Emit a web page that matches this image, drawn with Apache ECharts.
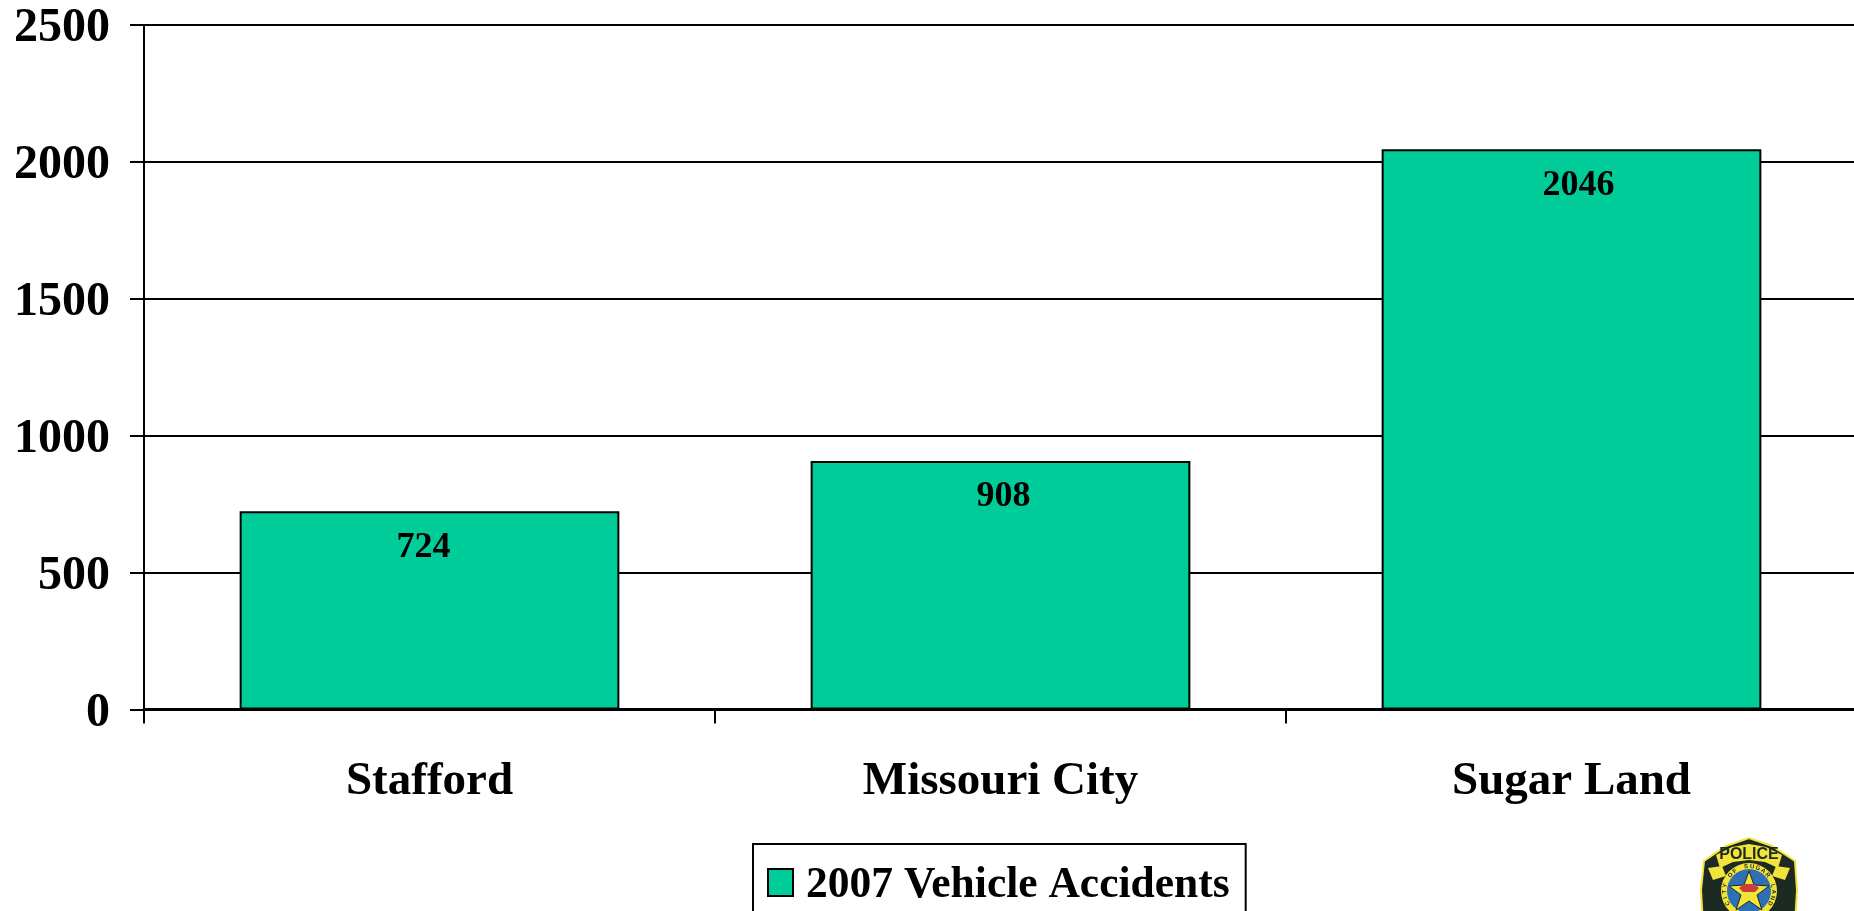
<!DOCTYPE html>
<html><head><meta charset="utf-8">
<style>html,body{margin:0;padding:0;background:#fff;overflow:hidden}#c{width:1854px;height:911px}</style>
<script src="https://cdn.jsdelivr.net/npm/echarts@6/dist/echarts.min.js"></script>
</head><body><div id="c"></div>
<script>
const categories = ['Stafford', 'Missouri City', 'Sugar Land'];
const accidents = [724, 908, 2046];
const seriesName = '2007 Vehicle Accidents';
const serif = '"Liberation Serif","Times New Roman",serif';
const chart = echarts.init(document.getElementById('c'), null, {renderer:'canvas'});
function badge(){
  const yellow='#f2e43a', dark='#1d2a22', blue='#2f6fb5';
  const cx=1749, cy=891;
  const ring='CITY OF SUGAR LAND'.split('').map((ch,i,a)=>{
    const ang=(-120+240*i/(a.length-1))*Math.PI/180;
    return {type:'text',silent:true,x:cx+24.5*Math.sin(ang),y:cy-24.5*Math.cos(ang),rotation:-ang,
      style:{text:ch,align:'center',verticalAlign:'middle',fill:dark,font:'bold 6px "Liberation Sans",sans-serif'}};
  });
  return [
    {type:'polygon',silent:true,shape:{points:[[1704,861],[1726,846],[1749,838],[1772,846],[1795,861],[1797,890],[1795,925],[1703,925],[1701,890]]},style:{fill:dark,stroke:yellow,lineWidth:2}},
    {type:'polygon',silent:true,shape:{points:[[1716,855],[1732,847],[1749,844],[1766,847],[1782,855],[1778,868],[1765,862],[1749,860],[1733,862],[1720,868]]},style:{fill:yellow}},
    {type:'polygon',silent:true,shape:{points:[[1708,868],[1722,866],[1726,876],[1713,880]]},style:{fill:yellow}},
    {type:'polygon',silent:true,shape:{points:[[1790,868],[1776,866],[1772,876],[1785,880]]},style:{fill:yellow}},
    {type:'circle',silent:true,shape:{cx:cx,cy:cy,r:28},style:{fill:yellow}},
    {type:'circle',silent:true,shape:{cx:cx,cy:cy,r:22},style:{fill:blue}},
    {type:'polygon',silent:true,shape:{points:[[1749,871],[1754,885],[1769,886],[1757,895],[1762,910],[1749,901],[1736,910],[1741,895],[1729,886],[1744,885]]},style:{fill:yellow,stroke:dark,lineWidth:1}},
    {type:'polygon',silent:true,shape:{points:[[1739,888],[1744,884],[1754,884],[1759,888],[1755,892],[1743,892]]},style:{fill:'#c9403a'}},
    {type:'text',silent:true,style:{x:1749,y:855,text:'POLICE',align:'center',verticalAlign:'middle',fill:dark,font:'bold 16px "Liberation Sans",sans-serif'}}
  ].concat(ring);
}
chart.setOption({
  animation:false,
  backgroundColor:'#fff',
  grid:{left:144,right:-3,top:25,bottom:201.5,containLabel:false,outerBoundsMode:'none'},
  legend:{
    show:true,left:753,top:844,padding:[20,16,40,14],
    borderColor:'#000',borderWidth:2,backgroundColor:'#fff',
    itemWidth:25,itemHeight:27,itemGap:0,
    formatter:(n)=>'{t|'+n+'}',
    textStyle:{fontFamily:serif,fontWeight:'bold',fontSize:43.5,color:'#000',
      rich:{t:{fontFamily:serif,fontWeight:'bold',fontSize:43.5,color:'#000',padding:[7,0,0,8]}}},
    data:[{name:seriesName,icon:'rect',itemStyle:{borderColor:'#000',borderWidth:2,color:'#00cc99'}}]
  },
  xAxis:{type:'category',data:categories,
    axisLine:{onZero:false,lineStyle:{color:'#000',width:3}},
    axisTick:{show:true,alignWithLabel:false,length:14,lineStyle:{color:'#000',width:2}},
    axisLabel:{interval:0,margin:49,color:'#000',fontFamily:serif,fontWeight:'bold',fontSize:47},
    splitLine:{show:false}},
  yAxis:{type:'value',min:0,max:2500,interval:500,
    axisLine:{show:true,lineStyle:{color:'#000',width:2}},
    axisTick:{show:true,length:14,lineStyle:{color:'#000',width:2}},
    axisLabel:{margin:34,color:'#000',fontFamily:serif,fontWeight:'bold',fontSize:48,verticalAlign:'top',lineHeight:8,
      formatter:(v)=>String(v)},
    splitLine:{show:true,lineStyle:{color:'#000',width:2}}},
  series:[{name:seriesName,type:'bar',barWidth:'66.5%',
    data:accidents.map((v,i)=>({value:v,label:{offset:[[-6,0],[3,0],[7,0]][i]}})),
    itemStyle:{color:'#00cc99',borderColor:'#000',borderWidth:2},
    label:{show:true,position:'insideTop',distance:18,color:'#000',fontFamily:serif,fontWeight:'bold',fontSize:36}}],
  graphic:badge()
});
</script></body></html>
